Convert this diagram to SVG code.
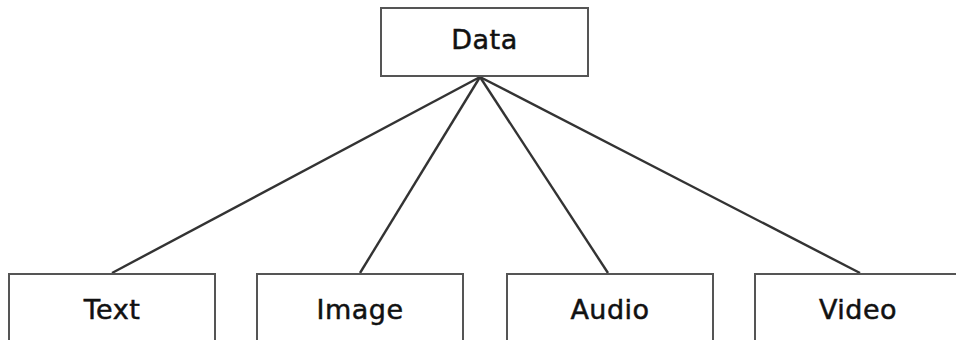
<svg xmlns="http://www.w3.org/2000/svg" width="956" height="340" viewBox="0 0 956 340">
<style>
.box{fill:#fff;stroke:#555;stroke-width:2}
.lbl{font-family:"DejaVu Sans","Liberation Sans",sans-serif;font-size:27px;fill:#111;stroke:#111;stroke-width:0.5;text-anchor:middle;letter-spacing:0.5px}
.edge{stroke:#333;stroke-width:2.4;fill:none}
</style>
<rect width="956" height="340" fill="#fff"/>
<g id="connectors">
<line class="edge" x1="480" y1="77" x2="112" y2="273"/>
<line class="edge" x1="480" y1="77" x2="360" y2="273"/>
<line class="edge" x1="480" y1="77" x2="608" y2="273"/>
<line class="edge" x1="480" y1="77" x2="860" y2="273"/>
</g>
<g id="data"><rect class="box" x="381" y="8" width="207" height="68"/><text class="lbl" x="484.5" y="49">Data</text></g>
<g id="text"><rect class="box" x="9" y="274" width="206" height="80"/><text class="lbl" x="112" y="319">Text</text></g>
<g id="image"><rect class="box" x="257" y="274" width="206" height="80"/><text class="lbl" x="360" y="319">Image</text></g>
<g id="audio"><rect class="box" x="507" y="274" width="206" height="80"/><text class="lbl" x="610" y="319">Audio</text></g>
<g id="video"><rect class="box" x="755" y="274" width="206" height="80"/><text class="lbl" x="858" y="319">Video</text></g>
</svg>
